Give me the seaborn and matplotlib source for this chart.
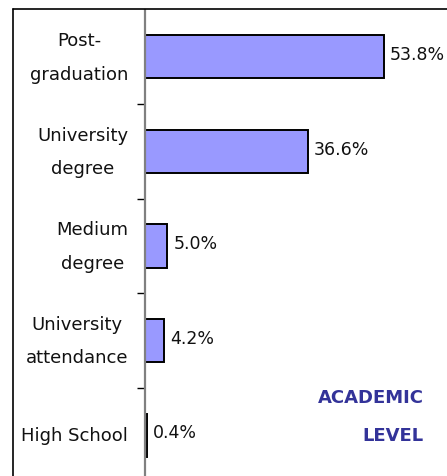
import matplotlib
matplotlib.use("Agg")
import matplotlib.pyplot as plt
import seaborn as sns
from matplotlib.lines import Line2D

categories = ["Post-\ngraduation", "University\ndegree", "Medium\ndegree",
              "University\nattendance", "High School"]
values = [53.8, 36.6, 5.0, 4.2, 0.4]
value_labels = ["53.8%", "36.6%", "5.0%", "4.2%", "0.4%"]
title_text = "ACADEMIC\nLEVEL"

sns.set_theme(style="white")
plt.rcParams['font.family'] = ['DejaVu Sans']

W, H = 447, 477
fig = plt.figure(figsize=(W / 100, H / 100), dpi=100)
ax = fig.add_axes([145 / W, (H - 483.5) / H, (W - 145) / W, 473 / H])

sns.barplot(x=values, y=categories, orient="h", color="#9999FF", saturation=1,
            edgecolor="black", linewidth=1.4, width=0.455, ax=ax)

ax.set_xlim(0, 68)
ax.set_ylim(4.5, -0.5)
ax.set_xlabel("")
ax.set_ylabel("")
ax.set_xticks([])
for s in ["top", "right", "bottom"]:
    ax.spines[s].set_visible(False)
ax.spines["left"].set_color("#808080")
ax.spines["left"].set_linewidth(1.6)

ax.set_yticks([0.5, 1.5, 2.5, 3.5], minor=True)
ax.tick_params(axis="y", which="minor", length=6, width=1, color="black",
               direction="out", left=True)
ax.tick_params(axis="y", which="major", length=0, pad=12, labelsize=13,
               labelcolor="#111111")
for lab in ax.get_yticklabels():
    lab.set_multialignment("center")
    lab.set_linespacing(2.1)
    lab.set_verticalalignment("center")

for i, (v, t) in enumerate(zip(values, value_labels)):
    ax.annotate(t, xy=(v, i), xytext=(4.5, 2), textcoords="offset points",
                ha="left", va="center", fontsize=12.5, color="#111111")

fig.text(424 / W, 1 - 417 / H, title_text, ha="right", va="center",
         fontsize=13, fontweight="bold", color="#333399",
         multialignment="right", linespacing=2.45)

fig.add_artist(Line2D([13 / W, 1.2], [1 - 10 / H, 1 - 10 / H],
                      transform=fig.transFigure, color="black", lw=1.2))
fig.add_artist(Line2D([13 / W, 13 / W], [1 - 10 / H, -0.2],
                      transform=fig.transFigure, color="black", lw=1.2))

fig.savefig("out.png", dpi=100)
